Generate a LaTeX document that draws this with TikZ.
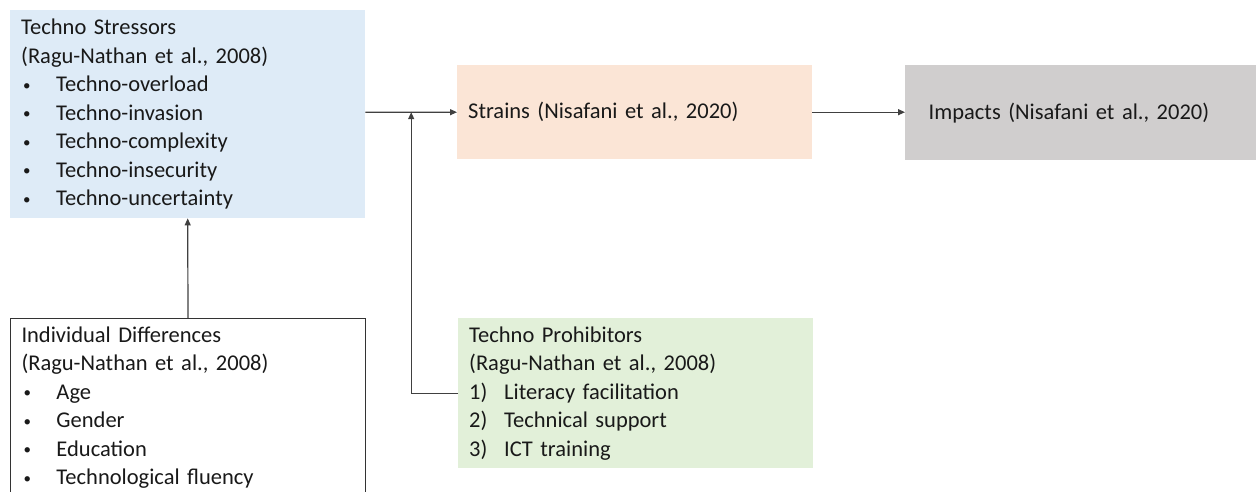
\documentclass[tikz,border=0pt]{standalone}
\usepackage{fontspec}
\setmainfont{Carlito}
\usepackage{tikz}
\usetikzlibrary{arrows.meta,calc}

\definecolor{stressBlue}{HTML}{DEEBF7}
\definecolor{strainOrange}{HTML}{FBE5D6}
\definecolor{impactGray}{HTML}{D0CECE}
\definecolor{prohibGreen}{HTML}{E2F0D9}
\definecolor{lineGray}{HTML}{404040}

\newcommand{\bulletitem}[1]{\makebox[35pt][l]{\hspace{2pt}\raisebox{1.5pt}{\fontsize{15}{15}\selectfont\textbullet}}#1}
\newcommand{\numitem}[2]{\makebox[35pt][l]{#1)}#2}

\begin{document}
\begin{tikzpicture}
[x=1pt,y=-1pt,
  boxDecorate/.style={shape=rectangle,anchor=north west,inner xsep=11pt,inner ysep=0pt,
    align=left,text width=333pt,minimum width=355pt,text=black!90,
    font=\fontsize{22.5}{28.5}\selectfont},%
  arrowDecorate/.style={-{Triangle[length=7pt,width=6pt]},draw=lineGray,line width=1.2pt}]
\useasboundingbox (0,0) rectangle (1256,492);
\clip (0,0) rectangle (1256,492);
\fill[white] (0,0) rectangle (1256,492);
%% boxes
\node (stressors) at (10,10) [boxDecorate,fill=stressBlue,minimum height=208pt]
  {Techno Stressors\\(Ragu-Nathan et al., 2008)\\\bulletitem{Techno-overload}\\
   \bulletitem{Techno-invasion}\\\bulletitem{Techno-complexity}\\
   \bulletitem{Techno-insecurity}\\\bulletitem{Techno-uncertainty}};
\node (strains) at (457,65) [boxDecorate,fill=strainOrange,minimum height=94pt]
  {Strains (Nisafani et al., 2020)};
\node (impacts) at (905,65) [boxDecorate,fill=impactGray,minimum height=95pt,minimum width=380pt]
  {Impacts (Nisafani et al., 2020)};
\node (prohibitors) at (458,318) [boxDecorate,fill=prohibGreen,minimum height=150pt,minimum width=354pt]
  {Techno Prohibitors\\(Ragu-Nathan et al., 2008)\\\numitem{1}{Literacy facilitation}\\
   \numitem{2}{Technical support}\\\numitem{3}{ICT training}};
\node (differences) at (10,318) [boxDecorate,draw=black!80,line width=1pt,minimum height=178.5pt]
  {Individual Differences\\(Ragu-Nathan et al., 2008)\\\bulletitem{Age}\\
   \bulletitem{Gender}\\\bulletitem{Education}\\\bulletitem{Technological fluency}};
%% connectors
\coordinate (junction) at ($(stressors.east |- strains.west)!0.5!(strains.west)$);
\draw[draw=lineGray,line width=1.2pt] (stressors.east |- strains.west) -- (junction);
\draw[arrowDecorate] (junction) -- (strains.west);
\draw[arrowDecorate] (prohibitors.west) -| (junction);
\draw[arrowDecorate] (strains.east) -- (strains.east -| impacts.west);
\draw[arrowDecorate] (differences.north) -- (stressors.south);
\end{tikzpicture}
\end{document}
